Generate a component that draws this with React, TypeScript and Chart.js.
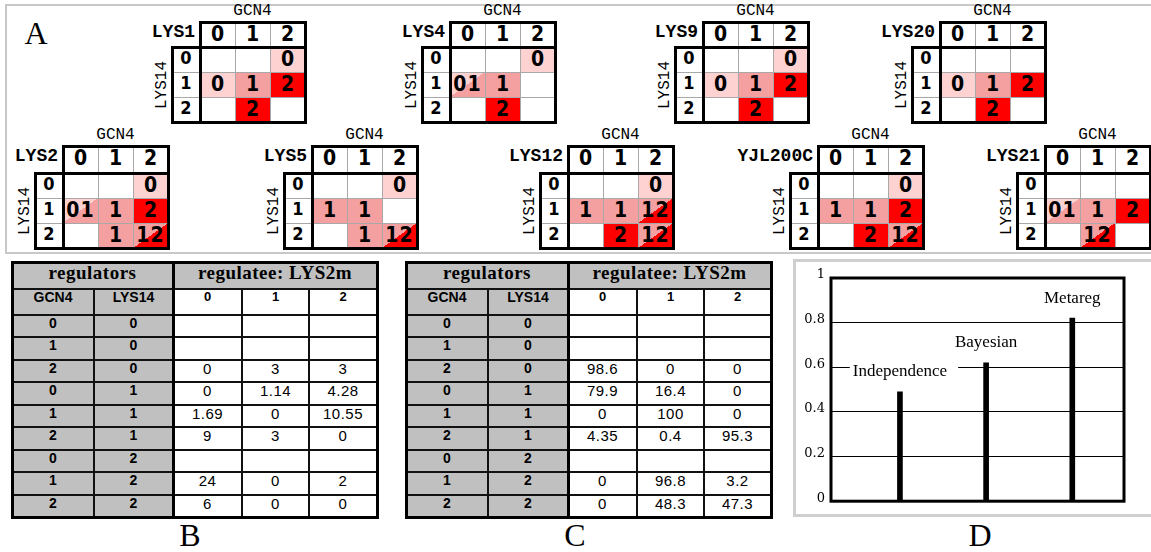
import React, { useEffect, useRef } from "react";
import { Chart, registerables } from "chart.js";
Chart.register(...registerables);

// ---------- Panel D data ----------
const methods = ["Independence", "Bayesian", "Metareg"];
const methodPos = [1, 2, 3];
const accuracy = [0.49, 0.62, 0.82];
const yTicks = [0, 0.2, 0.4, 0.6, 0.8, 1];

// ---------- Panel A data ----------
const levels = ["0", "1", "2"];
const topNames = ["LYS1", "LYS4", "LYS9", "LYS20"];
const bottomNames = ["LYS2", "LYS5", "LYS12", "YJL200C", "LYS21"];
const cellsLYS1 = [["", "", "0"], ["0", "1", "2"], ["", "2", ""]];
const cellsLYS4 = [["", "", "0"], ["01", "1", ""], ["", "2", ""]];
const cellsLYS9 = [["", "", "0"], ["0", "1", "2"], ["", "2", ""]];
const cellsLYS20 = [["", "", ""], ["0", "1", "2"], ["", "2", ""]];
const cellsLYS2 = [["", "", "0"], ["01", "1", "2"], ["", "1", "12"]];
const cellsLYS5 = [["", "", "0"], ["1", "1", ""], ["", "1", "12"]];
const cellsLYS12 = [["", "", "0"], ["1", "1", "12"], ["", "2", "12"]];
const cellsYJL200C = [["", "", "0"], ["1", "1", "2"], ["", "2", "12"]];
const cellsLYS21 = [["", "", ""], ["01", "1", "2"], ["", "12", ""]];
const topCells = [cellsLYS1, cellsLYS4, cellsLYS9, cellsLYS20];
const bottomCells = [cellsLYS2, cellsLYS5, cellsLYS12, cellsYJL200C, cellsLYS21];

// ---------- Panels B, C data ----------
const gcn4States = ["0", "1", "2", "0", "1", "2", "0", "1", "2"];
const lys14States = ["0", "0", "0", "1", "1", "1", "2", "2", "2"];
const regulateeStates = ["0", "1", "2"];
const tableB = [
  ["", "", ""], ["", "", ""], ["0", "3", "3"], ["0", "1.14", "4.28"], ["1.69", "0", "10.55"],
  ["9", "3", "0"], ["", "", ""], ["24", "0", "2"], ["6", "0", "0"],
];
const tableC = [
  ["", "", ""], ["", "", ""], ["98.6", "0", "0"], ["79.9", "16.4", "0"], ["0", "100", "0"],
  ["4.35", "0.4", "95.3"], ["", "", ""], ["0", "96.8", "3.2"], ["0", "48.3", "47.3"],
];

// ---------- layout ----------
const W = 1151;
const H = 552;
const LIGHT = "#ffd2d2";
const MED = "#f5a0a0";
const RED = "#ff0000";
const topHeaderLeft = [200, 450, 703, 940];
const bottomHeaderLeft = [63, 312, 568, 818, 1045];
const tableRowEdges = [262, 289, 315, 337, 360, 382, 405, 427, 450, 472, 495, 517];
const tableBX = [12, 94, 173, 242, 309, 377];
const tableCX = [406, 488, 568, 637, 704, 771];

const condensed = "'DejaVu Sans Condensed', 'Liberation Sans Narrow', 'Liberation Sans', sans-serif";

function cellBg(v: string) {
  switch (v) {
    case "0": return LIGHT;
    case "1": return MED;
    case "2": return RED;
    case "01": return `linear-gradient(to bottom right, ${LIGHT} 50%, ${MED} 50%)`;
    case "12": return `linear-gradient(to bottom right, ${MED} 50%, ${RED} 50%)`;
    default: return "#fff";
  }
}

const abs = (l: number, t: number, w: number, h: number, extra: any = {}) => ({
  position: "absolute" as const, left: l, top: t, width: w, height: h, boxSizing: "border-box" as const, ...extra,
});

function Matrix({ name, cells, hl, ht, hh }: { name: string; cells: string[][]; hl: number; ht: number; hh: number }) {
  const cw = 35, rh = 25, lw = 28;
  const bl = hl - lw, bt = ht + hh, right = hl + 3 * cw, bb = bt + 3 * rh;
  const els: any[] = [];
  let k = 0;
  els.push(<div key={k++} style={abs(hl, ht - 19, 3 * cw, 17, { textAlign: "center", font: "16px 'Liberation Mono', monospace", lineHeight: "17px" })}>GCN4</div>);
  els.push(<div key={k++} style={{ position: "absolute", right: W - (hl - 5), top: ht, height: hh, lineHeight: hh + "px", font: "bold 18px 'Liberation Mono', monospace", whiteSpace: "nowrap" }}>{name}</div>);
  els.push(<div key={k++} style={{ position: "absolute", left: bl - 10, top: bt + 1.5 * rh, transform: "translate(-50%, -50%) rotate(-90deg)", font: "16px 'Liberation Mono', monospace", lineHeight: "16px", whiteSpace: "nowrap" }}>LYS14</div>);
  levels.forEach((g, j) => {
    els.push(<div key={k++} style={abs(hl + j * cw, ht, cw, hh, { background: "#fff", textAlign: "center", lineHeight: hh + 2 + "px", font: `bold 21px ${condensed}` })}>{g}</div>);
  });
  levels.forEach((l, i) => {
    els.push(<div key={k++} style={abs(bl, bt + i * rh, lw, rh, { background: "#fff", textAlign: "center", lineHeight: rh + 1 + "px", font: `bold 18px ${condensed}` })}>{l}</div>);
    cells[i].forEach((v, j) => {
      els.push(<div key={k++} style={abs(hl + j * cw, bt + i * rh, cw, rh, { background: cellBg(v), textAlign: "center", lineHeight: rh + 2 + "px", font: `bold 21px ${condensed}`, letterSpacing: v.length > 1 ? "1px" : 0 })}>{v}</div>);
    });
  });
  for (let j = 1; j < 3; j++) {
    els.push(<div key={k++} style={abs(hl + j * cw, ht, 1, bb - ht, { background: "#a8a8a8" })} />);
  }
  for (let i = 1; i < 3; i++) {
    els.push(<div key={k++} style={abs(bl, bt + i * rh, right - bl, 1, { background: "#a8a8a8" })} />);
  }
  els.push(<div key={k++} style={abs(hl - 1, ht - 1, right - hl + 3, hh + 3, { border: "3px solid #000" })} />);
  els.push(<div key={k++} style={abs(bl - 1, bt - 1, right - bl + 3, bb - bt + 3, { border: "3px solid #000" })} />);
  els.push(<div key={k++} style={abs(hl - 1, bt, 3, bb - bt, { background: "#000" })} />);
  return <>{els}</>;
}

function DataTable({ xs, values }: { xs: number[]; values: string[][] }) {
  const ys = tableRowEdges;
  const els: any[] = [];
  let k = 0;
  const gray = "#c0c0c0";
  const cell = (x0: number, x1: number, y0: number, y1: number, text: string, bg: string, font: string, ls = 0) => {
    els.push(<div key={k++} style={abs(x0, y0, x1 - x0, y1 - y0, { background: bg, textAlign: "center", lineHeight: y1 - y0 + "px", font, letterSpacing: ls, whiteSpace: "nowrap" })}>{text}</div>);
  };
  cell(xs[0], xs[2], ys[0], ys[1], "regulators", gray, "bold 19px 'Liberation Serif', serif", 0.5);
  cell(xs[2], xs[5], ys[0], ys[1], "regulatee: LYS2m", gray, "bold 19px 'Liberation Serif', serif", 0.5);
  cell(xs[0], xs[1], ys[1], ys[2], "GCN4", gray, "bold 14px 'Liberation Sans', sans-serif");
  cell(xs[1], xs[2], ys[1], ys[2], "LYS14", gray, "bold 14px 'Liberation Sans', sans-serif");
  regulateeStates.forEach((s, j) => cell(xs[2 + j], xs[3 + j], ys[1], ys[2], s, "#fff", "bold 13px 'Liberation Sans', sans-serif"));
  gcn4States.forEach((g, i) => {
    cell(xs[0], xs[1], ys[2 + i], ys[3 + i], g, gray, "bold 14px 'Liberation Sans', sans-serif");
    cell(xs[1], xs[2], ys[2 + i], ys[3 + i], lys14States[i], gray, "bold 14px 'Liberation Sans', sans-serif");
    values[i].forEach((v, j) => cell(xs[2 + j], xs[3 + j], ys[2 + i], ys[3 + i], v, "#fff", "15px 'Liberation Sans', sans-serif", 0.5));
  });
  const x0 = xs[0], x1 = xs[5], y0 = ys[0], y1 = ys[ys.length - 1];
  for (let r = 1; r < ys.length - 1; r++) {
    els.push(<div key={k++} style={abs(x0, ys[r] - 1, x1 - x0, 2, { background: "#111" })} />);
  }
  [1, 3, 4].forEach((c) => {
    els.push(<div key={k++} style={abs(xs[c] - 1, ys[1], 2, y1 - ys[1], { background: "#111" })} />);
  });
  els.push(<div key={k++} style={abs(xs[2] - 1, y0, 3, y1 - y0, { background: "#000" })} />);
  els.push(<div key={k++} style={abs(x0 - 1, y0 - 1, x1 - x0 + 3, y1 - y0 + 3, { border: "3px solid #000" })} />);
  return <>{els}</>;
}

const labelPlugin = {
  id: "methodLabels",
  afterDatasetsDraw(chart: any) {
    const { ctx, scales } = chart;
    const xs = scales.x, ys = scales.y;
    ctx.save();
    ctx.font = "17px 'Liberation Serif', serif";
    ctx.textAlign = "center";
    ctx.textBaseline = "middle";
    methods.forEach((m, i) => {
      const px = xs.getPixelForValue(methodPos[i]);
      const py = ys.getPixelForValue(accuracy[i]) - 21;
      const w = ctx.measureText(m).width;
      ctx.fillStyle = "#fff";
      ctx.fillRect(px - w / 2 - 3, py - 9, w + 14, 18);
      ctx.fillStyle = "#000";
      ctx.fillText(m, px, py + 1);
    });
    ctx.restore();
  },
};

const framePlugin = {
  id: "plotFrame",
  afterDraw(chart: any) {
    const { ctx, chartArea: a } = chart;
    ctx.save();
    ctx.lineWidth = 3;
    ctx.strokeStyle = "#000000";
    ctx.strokeRect(a.left, a.top, a.right - a.left, a.bottom - a.top);
    ctx.restore();
  },
};

const CW = 331;
const CH = 252;

function BarChart() {
  const ref = useRef<HTMLCanvasElement | null>(null);
  useEffect(() => {
    if (!ref.current) return;
    const chart = new Chart(ref.current, {
      type: "bar",
      data: {
        datasets: [
          {
            data: methodPos.map((x, i) => ({ x, y: accuracy[i] })),
            backgroundColor: "#000",
            borderWidth: 0,
            barThickness: 5,
          },
        ],
      },
      options: {
        animation: false,
        responsive: false,
        maintainAspectRatio: false,
        devicePixelRatio: 1,
        layout: { padding: { left: 0, right: 3, top: 15, bottom: 11 } },
        plugins: { legend: { display: false }, tooltip: { enabled: false } },
        scales: {
          x: { type: "linear", min: 0.2, max: 3.6, display: false, offset: false, grid: { offset: false } },
          y: {
            min: 0,
            max: 1,
            afterBuildTicks: (axis: any) => {
              axis.ticks = yTicks.map((v) => ({ value: v }));
            },
            afterFit: (axis: any) => {
              axis.width = 35;
            },
            ticks: {
              color: "#000",
              font: { family: "'DejaVu Serif', serif", size: 13 },
              padding: 6,
              labelOffset: -3,
              callback: (v: any) => String(v),
            },
            grid: { color: "#000", lineWidth: 1, drawTicks: false },
            border: { display: false },
          },
        },
      } as any,
      plugins: [labelPlugin, framePlugin],
    });
    return () => chart.destroy();
  }, []);
  return (
    <div style={abs(796, 263, CW, CH)}>
      <canvas ref={ref} width={CW} height={CH} style={{ display: "block", width: CW, height: CH }} />
    </div>
  );
}

const letter = (t: string, cx: number, cy: number) => (
  <div style={{ position: "absolute", left: cx, top: cy, transform: "translate(-50%, -50%)", font: "32px 'Liberation Serif', serif", lineHeight: "28px" }}>{t}</div>
);

export default function App() {
  return (
    <div style={{ position: "absolute", left: 0, top: 0, width: W, height: H, background: "#fff", overflow: "hidden" }}>
      <div style={abs(5, 4, 1160, 250, { border: "2px solid #c8c8c8" })} />
      {letter("A", 36, 33)}
      {topNames.map((n, i) => (
        <Matrix key={n} name={n} cells={topCells[i]} hl={topHeaderLeft[i]} ht={22} hh={25} />
      ))}
      {bottomNames.map((n, i) => (
        <Matrix key={n} name={n} cells={bottomCells[i]} hl={bottomHeaderLeft[i]} ht={146} hh={27} />
      ))}
      <DataTable xs={tableBX} values={tableB} />
      <DataTable xs={tableCX} values={tableC} />
      {letter("B", 190, 535)}
      {letter("C", 575, 535)}
      <div style={abs(793, 259, 370, 258, { border: "3px solid #cfcfcf" })} />
      <BarChart />
      {letter("D", 980, 535)}
    </div>
  );
}
